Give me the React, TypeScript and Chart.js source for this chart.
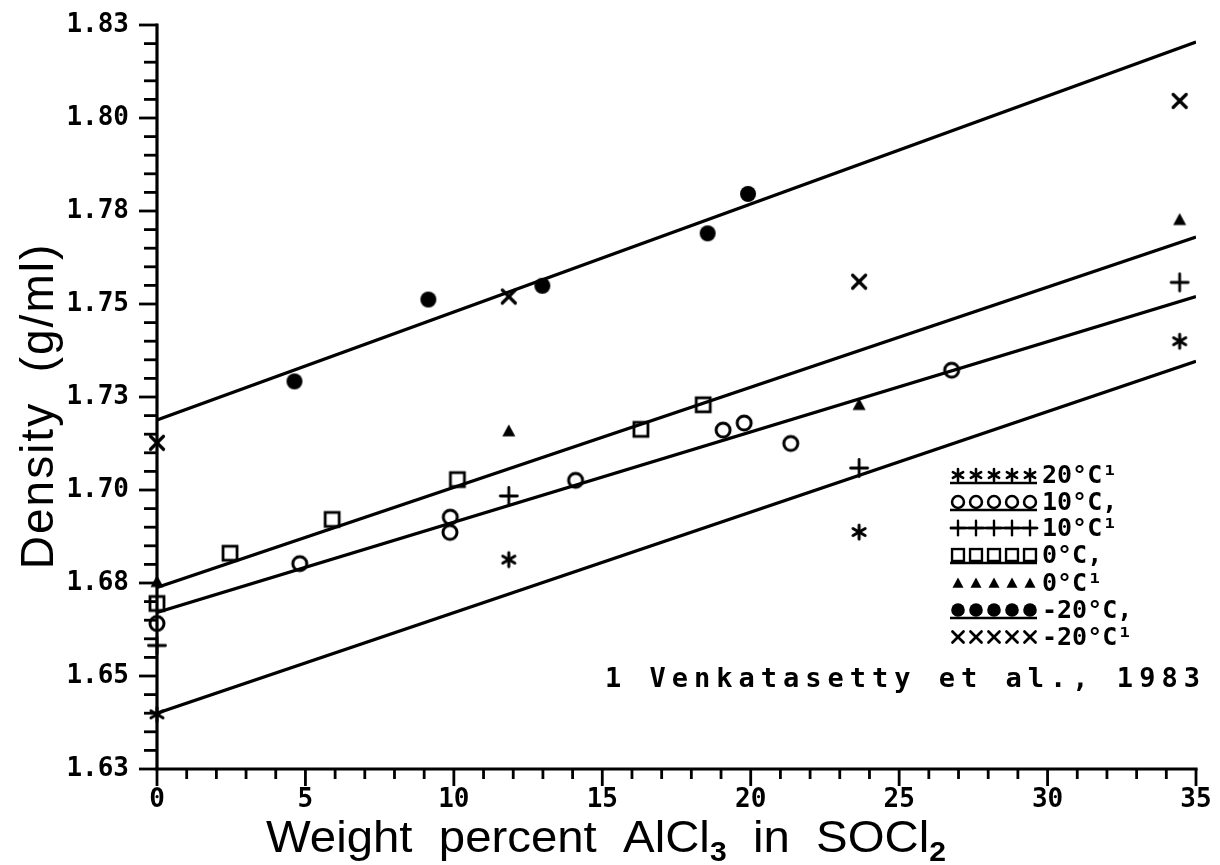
import React, { useEffect, useRef } from 'react';
import { Chart, registerables } from 'chart.js';

Chart.register(...registerables);

// ---- tick values / labels ----
const xTickValues = [0, 5, 10, 15, 20, 25, 30, 35];
const xTickLabels = ['0', '5', '10', '15', '20', '25', '30', '35'];
const yTickValues = [1.625, 1.65, 1.675, 1.7, 1.725, 1.75, 1.775, 1.8, 1.825];
const yTickLabels = ['1.63', '1.65', '1.68', '1.70', '1.73', '1.75', '1.78', '1.80', '1.83'];

// ---- reference (¹) series: Venkatasetty et al., 1983 ----
const refX = [0, 11.85, 23.65, 34.45];
const ref20C = [1.6397, 1.6813, 1.6887, 1.74];
const ref10C = [1.6582, 1.6984, 1.7059, 1.7558];
const ref0C = [1.6754, 1.7159, 1.723, 1.7727];
const refM20C = [1.7127, 1.752, 1.756, 1.8046];

// ---- measured series ----
const x10C = [0, 4.81, 9.87, 9.88, 14.1, 19.07, 19.78, 21.35, 26.77];
const y10C = [1.6641, 1.6802, 1.6886, 1.6927, 1.7026, 1.7161, 1.718, 1.7125, 1.7322];
const x0C = [0, 2.46, 5.9, 10.12, 16.3, 18.4];
const y0C = [1.6695, 1.683, 1.6921, 1.7028, 1.7163, 1.7229];
const xM20C = [4.63, 9.14, 12.98, 18.55, 19.91];
const yM20C = [1.7292, 1.7512, 1.7549, 1.769, 1.7796];

// ---- fitted lines ----
const fitX = [0, 35];
const fit20C = [1.64, 1.7346];
const fit10C = [1.6671, 1.752];
const fit0C = [1.6738, 1.768];
const fitM20C = [1.7188, 1.8204];

// ---- legend ----
const legendLabels = ['20°C¹', '10°C,', '10°C¹', '0°C,', '0°C¹', '-20°C,', '-20°C¹'];
const legendMarkers = ['asterisk', 'circle', 'plus', 'square', 'triangle', 'dot', 'x'];
const legendRule = ['under', 'under', 'through', 'under', 'none', 'under', 'none'];

const annotationText = '1 Venkatasetty et al., 1983';

function makeMarker(kind: string, scale: number): HTMLCanvasElement {
  const s = 24;
  const c = document.createElement('canvas');
  c.width = s;
  c.height = s;
  const g = c.getContext('2d') as CanvasRenderingContext2D;
  g.strokeStyle = '#000';
  g.fillStyle = '#000';
  g.lineCap = 'round';
  const m = s / 2;
  g.translate(m, m);
  g.scale(scale, scale);
  const seg = (x1: number, y1: number, x2: number, y2: number) => {
    g.beginPath();
    g.moveTo(x1, y1);
    g.lineTo(x2, y2);
    g.stroke();
  };
  switch (kind) {
    case 'asterisk':
      g.lineWidth = 3;
      for (let k = 0; k < 3; k++) {
        const ang = Math.PI / 2 + (k * Math.PI) / 3;
        const dx = Math.cos(ang) * 7;
        const dy = Math.sin(ang) * 7;
        seg(-dx, -dy, dx, dy);
      }
      break;
    case 'circle':
      g.lineWidth = 3;
      g.beginPath();
      g.arc(0, 0, 7, 0, Math.PI * 2);
      g.stroke();
      break;
    case 'plus':
      g.lineWidth = 2.8;
      seg(-8.5, 0, 8.5, 0);
      seg(0, -8.5, 0, 8.5);
      break;
    case 'square':
      g.lineWidth = 2.8;
      g.strokeRect(-7, -7, 14, 14);
      break;
    case 'triangle':
      g.beginPath();
      g.moveTo(0, -6.5);
      g.lineTo(6.5, 5.5);
      g.lineTo(-6.5, 5.5);
      g.closePath();
      g.fill();
      break;
    case 'dot':
      g.beginPath();
      g.arc(0, 0, 8, 0, Math.PI * 2);
      g.fill();
      break;
    case 'x':
      g.lineWidth = 3.2;
      seg(-6.5, -6.5, 6.5, 6.5);
      seg(-6.5, 6.5, 6.5, -6.5);
      break;
  }
  return c;
}

const pts = (xs: number[], ys: number[]) => xs.map((x, i) => ({ x, y: ys[i] }));

export default function App() {
  const ref = useRef<HTMLCanvasElement | null>(null);

  useEffect(() => {
    const canvas = ref.current;
    if (!canvas) return;
    const markers: Record<string, HTMLCanvasElement> = {};
    const smallMarkers: Record<string, HTMLCanvasElement> = {};
    legendMarkers.forEach((k) => {
      markers[k] = makeMarker(k, 1);
      smallMarkers[k] = makeMarker(k, 0.85);
    });

    const pointSet = (xs: number[], ys: number[], kind: string) => ({
      type: 'scatter' as const,
      data: pts(xs, ys),
      pointStyle: markers[kind],
      pointRadius: 9,
      showLine: false,
      clip: false as any,
    });
    const lineSet = (ys: number[]) => ({
      type: 'line' as const,
      data: pts(fitX, ys),
      borderColor: '#000',
      borderWidth: 3.2,
      pointRadius: 0,
      fill: false,
      tension: 0,
    });

    const decor = {
      id: 'decor',
      afterDraw(chart: any) {
        const { ctx, chartArea: a, scales } = chart;
        const xs = scales.x;
        const ys = scales.y;
        ctx.save();
        ctx.strokeStyle = '#000';
        ctx.fillStyle = '#000';
        ctx.lineWidth = 3.2;
        ctx.lineCap = 'square';
        const seg = (x1: number, y1: number, x2: number, y2: number) => {
          ctx.beginPath();
          ctx.moveTo(x1, y1);
          ctx.lineTo(x2, y2);
          ctx.stroke();
        };
        // axes
        seg(a.left, a.top, a.left, a.bottom);
        seg(a.left, a.bottom, a.right, a.bottom);
        ctx.lineCap = 'butt';
        ctx.lineWidth = 2.8;
        // y ticks (minor every 0.005)
        for (let i = 0; i <= 40; i++) {
          const py = ys.getPixelForValue(yTickValues[0] + i * 0.005);
          const len = i % 5 === 0 ? 18 : 13;
          seg(a.left - len, py, a.left, py);
        }
        // x ticks (minor every 1)
        for (let i = 0; i <= 35; i++) {
          const px = xs.getPixelForValue(i);
          const len = i % 5 === 0 ? 17 : 10;
          seg(px, a.bottom, px, a.bottom + len);
        }

        // x title with subscripts
        const runs = [
          { t: 'Weight  percent  AlCl', sub: false },
          { t: '3', sub: true },
          { t: '  in  SOCl', sub: false },
          { t: '2', sub: true },
        ];
        const mainFont = '44px "Liberation Sans", Arial, sans-serif';
        const subFont = 'bold 28px "Liberation Sans", Arial, sans-serif';
        let total = 0;
        runs.forEach((r) => {
          ctx.font = r.sub ? subFont : mainFont;
          total += ctx.measureText(r.t).width;
        });
        const startX = 266;
        const targetW = 680;
        ctx.save();
        ctx.translate(startX, 852);
        ctx.scale(targetW / total, 1);
        ctx.textBaseline = 'alphabetic';
        ctx.textAlign = 'left';
        let cx = 0;
        runs.forEach((r) => {
          ctx.font = r.sub ? subFont : mainFont;
          ctx.fillText(r.t, cx, r.sub ? 9 : 0);
          cx += ctx.measureText(r.t).width;
        });
        ctx.restore();

        // y title
        ctx.save();
        ctx.translate(53, 406);
        ctx.rotate(-Math.PI / 2);
        ctx.font = '46px "Liberation Sans", Arial, sans-serif';
        ctx.textBaseline = 'alphabetic';
        ctx.textAlign = 'center';
        (ctx as any).letterSpacing = '2px';
        ctx.fillText('Density  (g/ml)', 0, 0);
        (ctx as any).letterSpacing = '0px';
        ctx.restore();

        // legend
        const rowY = [475, 502, 528, 555, 583, 610, 637];
        const mx = [958, 976, 994, 1012, 1030];
        ctx.font = 'bold 25px "DejaVu Sans Mono", monospace';
        ctx.textBaseline = 'middle';
        ctx.textAlign = 'left';
        legendLabels.forEach((lab, i) => {
          const y = rowY[i];
          ctx.lineWidth = 2.5;
          if (legendRule[i] === 'under') seg(950, y + 8, 1037, y + 8);
          if (legendRule[i] === 'through') seg(950, y, 1037, y);
          const img = smallMarkers[legendMarkers[i]];
          mx.forEach((x) => ctx.drawImage(img, x - img.width / 2, y - img.height / 2));
          ctx.fillText(lab, 1042, y + 1);
        });

        // annotation
        ctx.font = 'bold 27px "DejaVu Sans Mono", monospace';
        ctx.textBaseline = 'middle';
        ctx.textAlign = 'left';
        (ctx as any).letterSpacing = '6px';
        ctx.fillText(annotationText, 605, 680);
        (ctx as any).letterSpacing = '0px';
        ctx.restore();
      },
    };

    const tickFont = { family: '"DejaVu Sans Mono", monospace', size: 26, weight: 'bold' };

    const chart = new Chart(canvas, {
      type: 'scatter',
      data: {
        datasets: [
          pointSet(refX, ref20C, 'asterisk'),
          pointSet(x10C, y10C, 'circle'),
          pointSet(refX, ref10C, 'plus'),
          pointSet(x0C, y0C, 'square'),
          pointSet(refX, ref0C, 'triangle'),
          pointSet(xM20C, yM20C, 'dot'),
          pointSet(refX, refM20C, 'x'),
          lineSet(fit20C),
          lineSet(fit10C),
          lineSet(fit0C),
          lineSet(fitM20C),
        ] as any,
      },
      options: {
        responsive: false,
        maintainAspectRatio: false,
        animation: false,
        devicePixelRatio: 1,
        layout: { padding: { left: 0, right: 24, top: 25, bottom: 0 } },
        plugins: { legend: { display: false }, tooltip: { enabled: false } },
        scales: {
          x: {
            type: 'linear',
            min: 0,
            max: 35,
            afterBuildTicks: (s: any) => {
              s.ticks = xTickValues.map((v) => ({ value: v }));
            },
            afterFit: (s: any) => {
              s.height = 96;
              s.paddingLeft = 0;
              s.paddingRight = 0;
              s.paddingTop = 0;
              s.paddingBottom = 0;
            },
            grid: { display: false, drawTicks: false },
            border: { display: false },
            ticks: {
              autoSkip: false,
              maxRotation: 0,
              padding: 16,
              color: '#000',
              font: tickFont,
              callback: (_v: any, i: number) => xTickLabels[i],
            },
          },
          y: {
            type: 'linear',
            min: 1.625,
            max: 1.825,
            afterBuildTicks: (s: any) => {
              s.ticks = yTickValues.map((v) => ({ value: v }));
            },
            afterFit: (s: any) => {
              s.width = 157;
              s.paddingLeft = 0;
              s.paddingRight = 0;
              s.paddingTop = 0;
              s.paddingBottom = 0;
            },
            grid: { display: false, drawTicks: false },
            border: { display: false },
            ticks: {
              autoSkip: false,
              padding: 28,
              color: '#000',
              font: tickFont,
              callback: (_v: any, i: number) => yTickLabels[i],
            },
          },
        },
      } as any,
      plugins: [decor],
    });
    return () => chart.destroy();
  }, []);

  return (
    <div style={{ position: 'absolute', left: 0, top: 0, width: 1220, height: 865, background: '#fff' }}>
      <canvas ref={ref} width={1220} height={865} style={{ display: 'block', width: 1220, height: 865 }} />
    </div>
  );
}
